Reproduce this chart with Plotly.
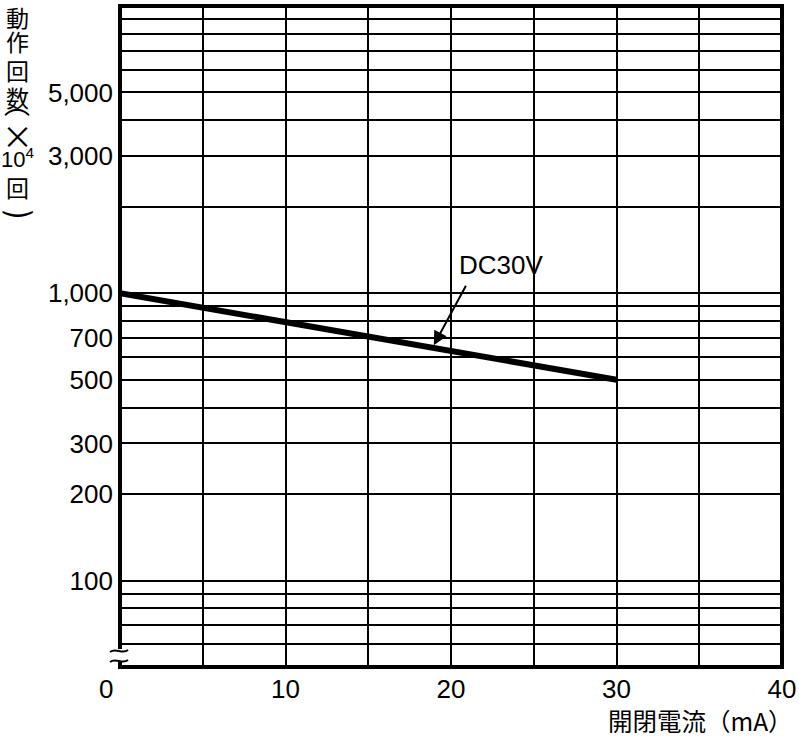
import plotly.graph_objects as go
import math

# Data
current_ma = [0, 30]
operations_1e4 = [1000, 500]
series_label = "DC30V"

x_tickvals = [0, 5, 10, 15, 20, 25, 30, 35, 40]
x_ticktext = ["", "", "10", "", "20", "", "30", "", "40"]
y_grid = [60, 70, 80, 90, 100, 200, 300, 400, 500, 600, 700, 800, 900,
          1000, 2000, 3000, 4000, 5000, 6000, 7000, 8000, 9000]
y_labels = {100: "100", 200: "200", 300: "300", 500: "500", 700: "700",
            1000: "1,000", 3000: "3,000", 5000: "5,000"}

FONT = "Liberation Sans, Arial, Helvetica, sans-serif"
CJK = "Noto Sans CJK JP, sans-serif"
DEJAVU = "DejaVu Sans, sans-serif"

W, H = 799, 739
L, R, T, B = 120, 17, 6, 72
PW, PH = W - L - R, H - T - B


def px(xp):
    return (xp - L) / PW


def py(yp):
    return (H - B - yp) / PH


fig = go.Figure()

fig.add_trace(go.Scatter(x=current_ma, y=operations_1e4, mode="lines",
                         line=dict(color="black", width=6), showlegend=False,
                         hoverinfo="skip"))

# border
fig.add_shape(type="rect", xref="paper", yref="paper", x0=0, x1=1, y0=0, y1=1,
              line=dict(color="black", width=4))

# axis break: gap in left border + two tilde strokes
fig.add_shape(type="rect", xref="paper", yref="paper",
              x0=px(116), x1=px(125), y0=py(662), y1=py(649),
              fillcolor="white", line=dict(width=0))
for yb in (651, 661):
    fig.add_shape(type="path", xref="paper", yref="paper",
                  path=(f"M {px(110)},{py(yb + 1)} "
                        f"C {px(116)},{py(yb - 4)} {px(122)},{py(yb + 4)} "
                        f"{px(128)},{py(yb - 1)}"),
                  line=dict(color="black", width=2))

fig.update_layout(
    width=W, height=H,
    margin=dict(l=L, r=R, t=T, b=B),
    plot_bgcolor="white", paper_bgcolor="white",
    font=dict(family=FONT, size=26, color="black"),
    xaxis=dict(range=[0, 40], tickvals=x_tickvals, ticktext=x_ticktext,
               showgrid=True, gridcolor="black", gridwidth=2,
               zeroline=False, showline=False, ticks="",
               ticklabelstandoff=4, fixedrange=True, automargin=False),
    yaxis=dict(type="log", range=[math.log10(50), 4],
               tickvals=y_grid,
               ticktext=[y_labels.get(v, "") for v in y_grid],
               showgrid=True, gridcolor="black", gridwidth=2,
               zeroline=False, showline=False, ticks="",
               ticklabelstandoff=6, fixedrange=True, automargin=False),
)

# "0" tick label, shifted left of the axis
fig.add_annotation(x=px(106), y=py(689), xref="paper", yref="paper", text="0",
                   showarrow=False, font=dict(size=26, family=FONT),
                   xanchor="center", yanchor="middle")

# series label with arrow
fig.add_annotation(x=23.0, y=math.log10(1250), xref="x", yref="y",
                   text=series_label, showarrow=False,
                   font=dict(size=26, family=FONT))
fig.add_annotation(x=18.96, y=math.log10(659), ax=20.95, ay=math.log10(1075),
                   xref="x", yref="y", axref="x", ayref="y", text="",
                   showarrow=True, arrowhead=2, arrowsize=1.4, arrowwidth=2,
                   arrowcolor="black")

# x axis title
fig.add_annotation(x=px(795), y=py(721), xref="paper", yref="paper",
                   text="開閉電流（mA）", showarrow=False,
                   font=dict(size=24.5, family=CJK),
                   xanchor="right", yanchor="middle")

# vertical y axis title, one glyph per line
title_parts = [("動", 17, 23, CJK), ("作", 41, 23, CJK),
               ("回", 70, 23, CJK), ("数", 97, 23, CJK),
               ("⌒", 120, 26, CJK), ("×", 134, 31, CJK),
               ("10<sup>4</sup>", 158, 22, FONT), ("回", 187, 23, CJK),
               ("‿", 197, 34, DEJAVU)]
for txt, yc, sz, fam in title_parts:
    fig.add_annotation(x=px(17), y=py(yc), xref="paper", yref="paper",
                       text=txt, showarrow=False,
                       font=dict(size=sz, family=fam),
                       xanchor="center", yanchor="middle")

fig.write_html("out.html", config={"displayModeBar": False},
               post_script="document.body.style.margin='0';"
                           "document.body.style.overflow='hidden';")
